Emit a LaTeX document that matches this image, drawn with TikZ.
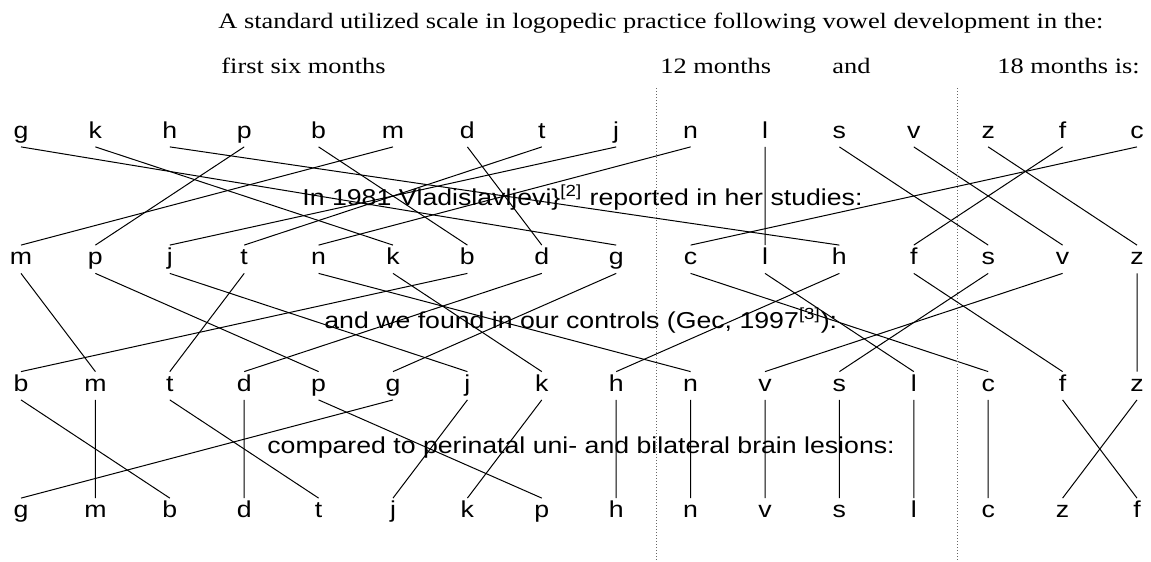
\documentclass[tikz,border=0pt]{standalone}
\usepackage{fontspec}
\setmainfont[FakeStretch=1.2]{Liberation Serif}
\setsansfont[FakeStretch=1.16]{Liberation Sans}
\usetikzlibrary{positioning}
\tikzset{
x=0.5pt, y=-0.5pt, % one unit is one pixel of the scan
letter/.style={font=\sffamily\fontsize{11.5}{12}\selectfont, anchor=base, inner sep=1.75pt, text height=7.75pt, text depth=2.5pt}, % one sound of a row
note/.style={font=\sffamily\fontsize{11.5}{12}\selectfont, anchor=base west, inner sep=0pt}, % text between the rows
head/.style={font=\rmfamily\fontsize{11}{12}\selectfont, anchor=base west, inner sep=0pt}, % text above the rows
link/.style={line width=0.5pt},
border/.style={densely dotted, black!60, line width=0.5pt},
}

\begin{document}
\begin{tikzpicture}

\useasboundingbox (0,0) rectangle (1151,562);

\node[head] (title) at (218,28) {A standard utilized scale in logopedic practice following vowel development in the:};
\node[head] (six) at (221,73) {first six months};
\node[head] (twelve) at (660,73) {12 months};
\node[head] (andtxt) at (832,73) {and};
\node[head] (eighteen) at (997,73) {18 months is:};

% the four rows
\foreach \l [count=\i from 0] in {g,k,h,p,b,m,d,t,j,n,l,s,v,z,f,c}
  \node[letter] (r1\l) at ({21+74.4*\i},138) {\l};
\foreach \l [count=\i from 0] in {m,p,j,t,n,k,b,d,g,c,l,h,f,s,v,z}
  \node[letter] (r2\l) at ({21+74.4*\i},264.5) {\l};
\foreach \l [count=\i from 0] in {b,m,t,d,p,g,j,k,h,n,v,s,l,c,f,z}
  \node[letter] (r3\l) at ({21+74.4*\i},391) {\l};
\foreach \l [count=\i from 0] in {g,m,b,d,t,j,k,p,h,n,v,s,l,c,z,f}
  \node[letter] (r4\l) at ({21+74.4*\i},517.5) {\l};

\node[note] (vlad) at (302,205) {In 1981 Vladislavljevi\}\textsuperscript{[2]} reported in her studies:};
\node[note] (gec) at (324,328) {and we found in our controls (Gec, 1997\textsuperscript{[3]}):};
\node[note] (lesion) at (267,453) {compared to perinatal uni- and bilateral brain lesions:};

% same sound from row to row, from under one letter to over the next
\foreach \l in {g,k,h,p,b,m,d,t,j,n,l,s,v,z,f,c}
  \draw[link] (r1\l.south) -- (r2\l.north) (r2\l.south) -- (r3\l.north) (r3\l.south) -- (r4\l.north);

% month borders
\coordinate (top12) at (656,88);
\coordinate (bot12) at (656,562);
\coordinate (top18) at (957,88);
\coordinate (bot18) at (957,562);
\draw[border] (top12) -- (bot12);
\draw[border] (top18) -- (bot18);

\end{tikzpicture}
\end{document}
